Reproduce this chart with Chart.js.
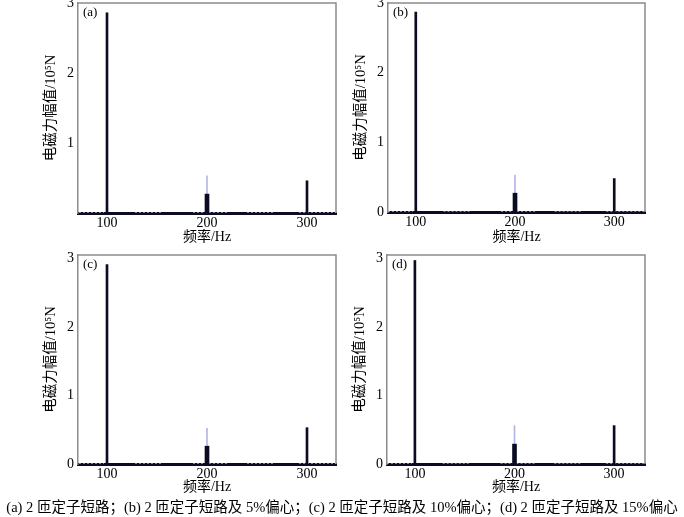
<!DOCTYPE html>
<html>
<head>
<meta charset="utf-8">
<script src="https://cdn.jsdelivr.net/npm/chart.js@4.4.0/dist/chart.umd.min.js"></script>
<style>
  body { margin: 0; width: 684px; height: 517px; background: #fff; position: relative; overflow: hidden;
         font-family: 'Liberation Serif', 'Noto Sans CJK SC', serif; }
  canvas { position: absolute; }
  .caption { position: absolute; left: 0; top: 495px; width: 684px; text-align: center;
             font-size: 14.5px; white-space: nowrap; color: #000; }
</style>
</head>
<body>
<canvas id="chartA" width="340" height="250" style="left:0;top:0"></canvas>
<canvas id="chartB" width="340" height="250" style="left:310px;top:0"></canvas>
<canvas id="chartC" width="340" height="250" style="left:0;top:250px"></canvas>
<canvas id="chartD" width="340" height="250" style="left:309px;top:250px"></canvas>
<div class="caption">(a) 2 匝定子短路；(b) 2 匝定子短路及 5%偏心；(c) 2 匝定子短路及 10%偏心；(d) 2 匝定子短路及 15%偏心</div>

<script>
// Harmonic frequencies (Hz) and amplitudes (10^5 N) per case
const freqs = [100, 200, 300];
const ampA = [2.86, 0.27, 0.46];
const ampB = [2.87, 0.27, 0.48];
const ampC = [2.91, 0.26, 0.53];
const ampD = [2.97, 0.29, 0.56];
// faint line at 200 Hz behind the main bar
const sideband = [0.53, 0.53, 0.52, 0.56];
const panelLabels = ['(a)', '(b)', '(c)', '(d)'];
const yTicks = [0, 1, 2, 3];
const xRanges = [[71, 329], [72, 331], [71, 329], [72, 331]];
const yMax = [3, 3, 3.05, 3.05];
// stretches of the baseline that show small white gaps
const dotRanges = [[72, 97], [128, 156], [186, 222], [240, 268], [292, 331]];

const DARK = '#0b0b23';
const FONT = "'Liberation Serif', 'Noto Sans CJK SC', serif";

// Layout of each panel inside its canvas
const panels = [
  { id: 'chartA', amps: ampA, padTop: 3, padRight: 4, xHeight: 37, hideZero: true },
  { id: 'chartB', amps: ampB, padTop: 3, padRight: 5, xHeight: 38, hideZero: false },
  { id: 'chartC', amps: ampC, padTop: 5, padRight: 4, xHeight: 36, hideZero: false },
  { id: 'chartD', amps: ampD, padTop: 5, padRight: 4, xHeight: 36, hideZero: false }
];

// Top and right frame lines plus the panel label
const framePlugin = {
  id: 'frame',
  beforeDatasetsDraw(chart, args, opts) {
    const { ctx, chartArea: a } = chart;
    ctx.save();
    ctx.strokeStyle = '#8c8c8c';
    ctx.lineWidth = 1.5;
    ctx.beginPath();
    ctx.moveTo(a.left, a.top);
    ctx.lineTo(a.right, a.top);
    ctx.lineTo(a.right, a.bottom);
    ctx.stroke();
    ctx.fillStyle = '#000';
    ctx.font = '13px ' + FONT;
    ctx.textBaseline = 'middle';
    ctx.fillText(opts.label, a.left + 5, a.top + 10);
    ctx.restore();
  }
};

function dotData() {
  const pts = [];
  dotRanges.forEach(r => {
    pts.push({ x: r[0], y: 0 }, { x: r[1], y: 0 }, { x: r[1], y: null });
  });
  return pts;
}

function makeChart(p, i) {
  const amps = p.amps;
  new Chart(document.getElementById(p.id), {
    type: 'bar',
    data: {
      datasets: [
        {
          type: 'line',
          data: dotData(),
          borderColor: '#ffffff',
          borderWidth: 1,
          borderDash: [2, 2],
          pointRadius: 0,
          spanGaps: false,
          order: 3
        },
        {
          data: [{ x: freqs[1], y: sideband[i] }],
          backgroundColor: '#b4b4e8',
          barThickness: 1,
          grouped: false,
          order: 2
        },
        {
          data: [{ x: freqs[0], y: amps[0] }, { x: freqs[2], y: amps[2] }],
          backgroundColor: DARK,
          barThickness: 2,
          grouped: false,
          order: 1
        },
        {
          data: [{ x: freqs[1], y: amps[1] }],
          backgroundColor: DARK,
          barThickness: 4,
          grouped: false,
          order: 0
        }
      ]
    },
    options: {
      responsive: false,
      animation: false,
      layout: { padding: { top: p.padTop, right: p.padRight, left: 0, bottom: 0 } },
      plugins: {
        legend: { display: false },
        tooltip: { enabled: false },
        frame: { label: panelLabels[i] }
      },
      scales: {
        x: {
          type: 'linear',
          offset: false,
          min: xRanges[i][0],
          max: xRanges[i][1],
          afterBuildTicks: s => { s.ticks = freqs.map(v => ({ value: v })); },
          afterFit: s => { s.height = p.xHeight; s.paddingLeft = 0; s.paddingRight = 0; },
          grid: { display: false, drawTicks: false },
          border: { display: true, color: DARK, width: 3 },
          ticks: { color: '#000', padding: 2, maxRotation: 0, font: { family: FONT, size: 14 } },
          title: {
            display: true,
            text: '频率/Hz',
            color: '#000',
            padding: { top: 0, bottom: 4 },
            font: { family: FONT, size: 14 }
          }
        },
        y: {
          min: 0,
          max: yMax[i],
          afterBuildTicks: s => { s.ticks = yTicks.map(v => ({ value: v })); },
          afterFit: s => { s.width = 78; s.paddingTop = 0; s.paddingBottom = 0; },
          grid: { display: false, drawTicks: false },
          border: { display: true, color: '#8c8c8c', width: 1.5 },
          ticks: {
            color: '#000',
            padding: 4,
            font: { family: FONT, size: 14 },
            callback: v => (p.hideZero && v === 0) ? '' : String(v)
          },
          title: {
            display: true,
            text: '电磁力幅值/10⁵N',
            color: '#000',
            padding: { top: 42, bottom: 0 },
            font: { family: FONT, size: 14.5 }
          }
        }
      }
    },
    plugins: [framePlugin]
  });
}

panels.forEach(makeChart);
</script>
</body>
</html>
